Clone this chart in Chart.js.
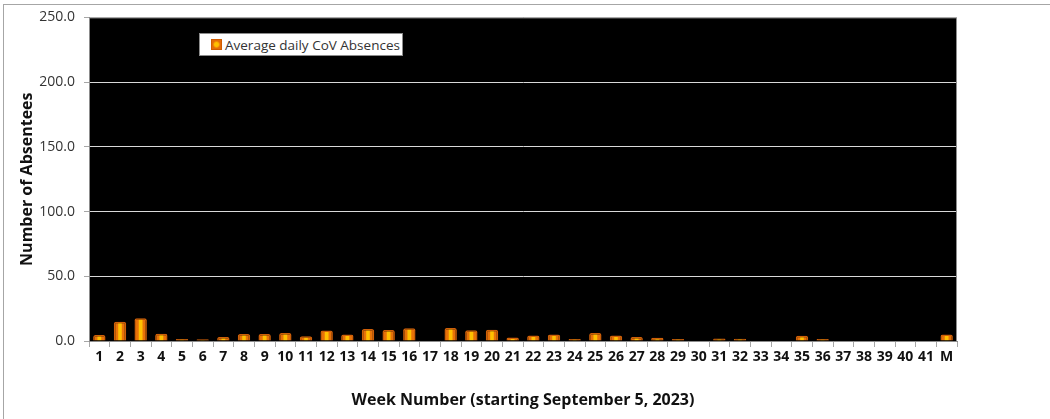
<!DOCTYPE html>
<html>
<head>
<meta charset="utf-8">
<script src="https://cdn.jsdelivr.net/npm/chart.js@4"></script>
<style>
    body { margin: 0; background: #fff; }
    #wrap { position: relative; width: 1050px; height: 419px; overflow: hidden; }
    #frame { position: absolute; left: 3px; top: 4px; width: 1100px; height: 500px;
             border-left: 1px solid #a6a6a6; border-top: 1px solid #a6a6a6; }
    #legend { position: absolute; left: 199px; top: 33px; width: 202px; height: 21px;
              background: #fff; border: 1px solid #8c8c8c; display: flex; align-items: center;
              font: 13.5px "Open Sans", sans-serif; color: #333; white-space: nowrap; }
    #legend .swatch { width: 11px; height: 11px; margin: 0 3px 0 11px; flex: none;
                      background: radial-gradient(circle, #ffc000 0%, #ffc000 30%, #e46c0a 60%);
                      border: 1px solid #d05c00; box-sizing: border-box; }
</style>
</head>
<body>
<div id="wrap">
    <div id="frame"></div>
    <canvas id="absenceChart" width="1050" height="419"></canvas>
    <div id="legend"><span class="swatch"></span><span>Average daily CoV Absences</span></div>
</div>
<script>
const weeks = ['1', '2', '3', '4', '5', '6', '7', '8', '9', '10', '11', '12', '13', '14', '15', '16', '17', '18', '19', '20',
    '21', '22', '23', '24', '25', '26', '27', '28', '29', '30', '31', '32', '33', '34', '35', '36', '37', '38', '39', '40', '41', 'M'];
const absences = [4.6, 14.8, 17.6, 5.6, 1.5, 1.3, 3.0, 5.4, 5.4, 6.1, 3.6, 8.2, 5.1, 9.2, 8.5, 9.9, 0, 10.0, 8.4, 8.7,
    2.8, 4.3, 5.1, 1.5, 6.1, 4.3, 3.0, 2.5, 1.5, 0, 2.0, 1.8, 0, 0, 4.0, 1.5, 0, 0, 0, 0, 0, 5.1];
const yTicks = [0, 50, 100, 150, 200, 250];

const BAR_PCT = 0.6;

// black plot area + grey frame round it
const plotBackground = {
    id: 'plotBackground',
    beforeDraw(chart) {
        const {ctx, chartArea} = chart;
        ctx.save();
        ctx.fillStyle = '#000';
        ctx.fillRect(chartArea.left, chartArea.top, chartArea.width, chartArea.height);
        ctx.restore();
    },
    afterDraw(chart) {
        const {ctx, chartArea} = chart;
        ctx.save();
        ctx.strokeStyle = '#8c8c8c';
        ctx.lineWidth = 1;
        ctx.strokeRect(chartArea.left + 0.5, chartArea.top + 0.5, chartArea.width - 1, chartArea.height);
        ctx.restore();
    }
};

// orange bar with a yellow strip down the middle
function barFill(context) {
    const chart = context.chart;
    const xScale = chart.scales.x;
    if (!chart.chartArea || !xScale) return '#e46c0a';
    const cx = xScale.getPixelForValue(context.dataIndex);
    const half = xScale.width / weeks.length * BAR_PCT / 2;
    const g = chart.ctx.createLinearGradient(cx - half, 0, cx + half, 0);
    g.addColorStop(0, '#e46c0a');
    g.addColorStop(0.3, '#e87408');
    g.addColorStop(0.4, '#ffc000');
    g.addColorStop(0.6, '#ffc000');
    g.addColorStop(0.7, '#e87408');
    g.addColorStop(1, '#e46c0a');
    return g;
}

new Chart(document.querySelector('#absenceChart'), {
    type: 'bar',
    data: {
        labels: weeks,
        datasets: [{
            label: 'Average daily CoV Absences',
            data: absences,
            backgroundColor: barFill,
            borderColor: '#cf5f08',
            borderWidth: 1.5,
            borderRadius: 2,
            borderSkipped: 'bottom',
            barPercentage: BAR_PCT,
            categoryPercentage: 1
        }]
    },
    options: {
        responsive: false,
        animation: false,
        layout: {padding: {top: 14, right: 93, left: 0, bottom: 0}},
        plugins: {
            legend: {display: false},
            tooltip: {enabled: false}
        },
        scales: {
            x: {
                afterFit: (scale) => { scale.height = 78; },
                grid: {drawOnChartArea: false, offset: true, tickLength: 6, color: '#a6a6a6'},
                border: {color: '#8c8c8c'},
                ticks: {
                    color: '#111',
                    padding: 2,
                    autoSkip: false,
                    maxRotation: 0,
                    font: {family: '"Open Sans", sans-serif', size: 14, weight: 'bold'}
                },
                title: {
                    display: true,
                    text: 'Week Number (starting September 5, 2023)',
                    color: '#111',
                    padding: {bottom: 9},
                    font: {family: '"Open Sans", sans-serif', size: 16, weight: 'bold'}
                }
            },
            y: {
                min: 0,
                max: 250,
                afterFit: (scale) => { scale.width = 89; },
                afterBuildTicks: (scale) => { scale.ticks = yTicks.map(v => ({value: v})); },
                grid: {color: '#d9d9d9', tickLength: 5, tickColor: '#a6a6a6'},
                border: {color: '#8c8c8c'},
                ticks: {
                    color: '#333',
                    padding: 9,
                    callback: (v) => Number(v).toFixed(1),
                    font: {family: '"Open Sans", sans-serif', size: 14}
                },
                title: {
                    display: true,
                    text: 'Number of Absentees',
                    color: '#111',
                    padding: {top: 18},
                    font: {family: '"Open Sans", sans-serif', size: 16, weight: 'bold'}
                }
            }
        }
    },
    plugins: [plotBackground]
});
</script>
</body>
</html>
